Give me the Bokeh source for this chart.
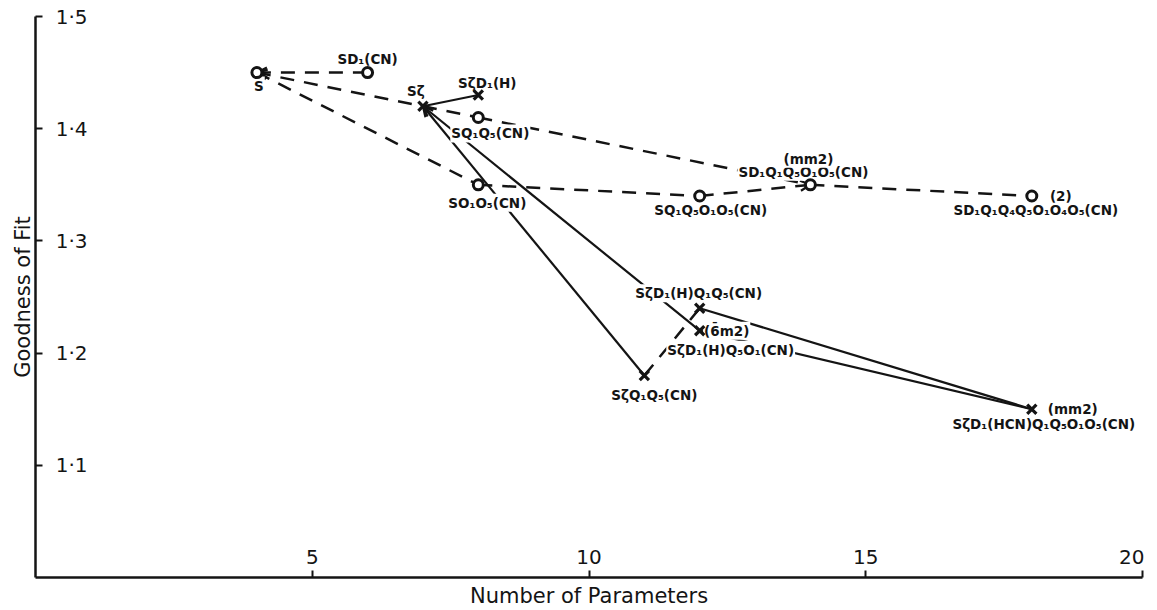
from bokeh.plotting import figure
from bokeh.models import FixedTicker, CustomJSTickFormatter, ColumnDataSource, Arrow, OpenHead
from bokeh.core.properties import value
from bokeh.embed import file_html
from bokeh.resources import INLINE

# ---- data ----
circ_names = ["S", "SD₁(CN)", "SQ₁Q₅(CN)", "SO₁O₅(CN)", "SQ₁Q₅O₁O₅(CN)",
              "SD₁Q₁Q₅O₁O₅(CN)", "SD₁Q₁Q₄Q₅O₁O₄O₅(CN)"]
circ_params = [4, 6, 8, 8, 12, 14, 18]
circ_fit = [1.45, 1.45, 1.41, 1.35, 1.34, 1.35, 1.34]
circ_sym = ["", "", "", "", "", "(mm2)", "(2)"]

cross_names = ["Sζ", "SζD₁(H)", "SζQ₁Q₅(CN)", "SζD₁(H)Q₁Q₅(CN)",
               "SζD₁(H)Q₅O₁(CN)", "SζD₁(HCN)Q₁Q₅O₁O₅(CN)"]
cross_params = [7, 8, 11, 12, 12, 18]
cross_fit = [1.42, 1.43, 1.18, 1.24, 1.22, 1.15]
cross_sym = ["", "", "", "", "(6\u0304m2)", "(mm2)"]

dashed_links = [
    ("S", "SD₁(CN)"), ("S", "Sζ"), ("S", "SO₁O₅(CN)"),
    ("Sζ", "SQ₁Q₅(CN)"), ("SQ₁Q₅(CN)", "SD₁Q₁Q₅O₁O₅(CN)"),
    ("SO₁O₅(CN)", "SQ₁Q₅O₁O₅(CN)"), ("SQ₁Q₅O₁O₅(CN)", "SD₁Q₁Q₅O₁O₅(CN)"),
    ("SD₁Q₁Q₅O₁O₅(CN)", "SD₁Q₁Q₄Q₅O₁O₄O₅(CN)"),
    ("SζQ₁Q₅(CN)", "SζD₁(H)Q₁Q₅(CN)"),
]
solid_links = [
    ("Sζ", "SζD₁(H)"), ("Sζ", "SζQ₁Q₅(CN)"), ("Sζ", "SζD₁(H)Q₅O₁(CN)"),
    ("SζD₁(H)Q₅O₁(CN)", "SζD₁(HCN)Q₁Q₅O₁O₅(CN)"),
    ("SζD₁(H)Q₁Q₅(CN)", "SζD₁(HCN)Q₁Q₅O₁O₅(CN)"),
]
arrow_links = [
    ("SD₁(CN)", "S"), ("Sζ", "S"), ("SζQ₁Q₅(CN)", "Sζ"),
    ("SζD₁(H)Q₅O₁(CN)", "Sζ"), ("SQ₁Q₅O₁O₅(CN)", "SD₁Q₁Q₅O₁O₅(CN)"),
]

y_ticks = [1.1, 1.2, 1.3, 1.4, 1.5]
x_ticks = [5, 10, 15, 20]

# ---- label placement (pixel offsets, style only; +dy = downward) ----
circ_dx = [2, 0, 12, 9, 11, -7, 4]
circ_dy = [13, -14, 16, 18, 14, -13, 14]
circ_sym_dx = [0, 0, 0, 0, 0, -2, 29]
circ_sym_dy = [0, 0, 0, 0, 0, -26, 0]
cross_dx = [-7, 9, 10, -1, 31, 12]
cross_dy = [-15, -12, 19, -15, 19, 15]
cross_sym_dx = [0, 0, 0, 0, 27, 41]
cross_sym_dy = [0, 0, 0, 0, 0, 0]

INK = "#141414"
FONT = "DejaVu Sans"

pos = {}
for n, x, y in zip(circ_names, circ_params, circ_fit):
    pos[n] = (x, y)
for n, x, y in zip(cross_names, cross_params, cross_fit):
    pos[n] = (x, y)

p = figure(frame_width=1107, frame_height=561, min_border_left=35, min_border_right=2,
           min_border_top=16, min_border_bottom=18, x_range=(0, 20), y_range=(1.0, 1.5),
           output_backend="svg", toolbar_location=None)
p.outline_line_color = None
p.xgrid.visible = False
p.ygrid.visible = False
p.background_fill_color = "white"
p.border_fill_color = "white"

# axes
for ax in (p.xaxis[0], p.yaxis[0]):
    ax.axis_line_width = 2.5
    ax.axis_line_color = INK
    ax.major_tick_line_width = 2
    ax.major_tick_line_color = INK
    ax.major_tick_in = 7
    ax.major_tick_out = 0
    ax.minor_tick_line_color = None
    ax.major_label_text_font = FONT
    ax.major_label_text_font_size = "20px"
    ax.major_label_text_color = INK
    ax.axis_label_text_font = FONT
    ax.axis_label_text_font_style = "normal"
    ax.axis_label_text_color = INK
    ax.axis_label_text_font_size = "21px"

p.xaxis.ticker = FixedTicker(ticks=x_ticks)
p.yaxis.ticker = FixedTicker(ticks=y_ticks)
p.yaxis.formatter = CustomJSTickFormatter(code="return tick.toFixed(1).replace('.', '\u00b7')")
p.xaxis.major_label_standoff = -28
p.yaxis.major_label_standoff = -52
p.xaxis.axis_label = "Number of Parameters"
p.yaxis.axis_label = "Goodness of Fit"
p.xaxis.axis_label_standoff = 17
p.yaxis.axis_label_standoff = 18

# links
def seg_source(links):
    return ColumnDataSource(dict(
        x0=[pos[a][0] for a, b in links], y0=[pos[a][1] for a, b in links],
        x1=[pos[b][0] for a, b in links], y1=[pos[b][1] for a, b in links]))

p.segment("x0", "y0", "x1", "y1", source=seg_source(dashed_links), line_color=INK,
          line_width=2.5, line_dash="14 10")
p.segment("x0", "y0", "x1", "y1", source=seg_source(solid_links), line_color=INK,
          line_width=2.2)

# small open arrowheads at the marked ends
arrows = Arrow(end=OpenHead(size=10, line_width=2.2, line_color=INK),
               source=seg_source(arrow_links), x_start="x0", y_start="y0",
               x_end="x1", y_end="y1", line_color=None, level="underlay")
p.add_layout(arrows)

# labels
lab = ColumnDataSource(dict(
    x=circ_params + cross_params + circ_params + cross_params,
    y=circ_fit + cross_fit + circ_fit + cross_fit,
    t=circ_names + cross_names + circ_sym + cross_sym,
    dx=circ_dx + cross_dx + circ_sym_dx + cross_sym_dx,
    dy=circ_dy + cross_dy + circ_sym_dy + cross_sym_dy,
))
p.text("x", "y", text="t", source=lab, x_offset="dx", y_offset="dy",
       text_align="center", text_baseline="middle", text_color=INK,
       text_font=value(FONT), text_font_size="13.5px", text_font_style="bold",
       background_fill_color="white", padding=1)

# markers
p.scatter(circ_params, circ_fit, marker="circle", size=10, line_width=3,
          line_color=INK, fill_color="white")
p.scatter(cross_params, cross_fit, marker="x", size=13, line_width=3.2,
          line_color=INK)

open("out.html", "w").write(file_html(p, INLINE))
